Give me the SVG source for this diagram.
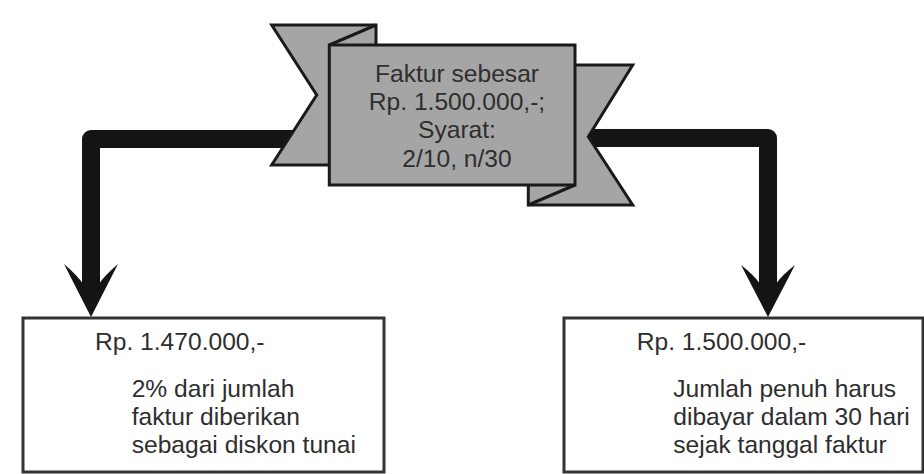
<svg xmlns="http://www.w3.org/2000/svg" width="924" height="474" viewBox="0 0 924 474">
  <style>
    .txt { font-family: "Liberation Sans", Arial, sans-serif; font-size: 24.6px; fill: #2e2e2e; }
    .conn { fill: none; stroke: #141414; stroke-width: 18; stroke-linejoin: round; }
    .head { fill: #141414; }
    .rib { fill: #a5a5a5; stroke: #1a1a1a; stroke-width: 3; stroke-linejoin: miter; }
    .fold { fill: none; stroke: #1a1a1a; stroke-width: 3; }
    .box { fill: #ffffff; stroke: #333333; stroke-width: 3; }
  </style>
  <rect width="924" height="474" fill="#ffffff"/>

  <g id="connectors">
    <path class="conn" d="M310,139 L91,139 L91,284"/>
    <path class="head" d="M64,264 L91,317 L118,264 Q104,276 99,284 L83,284 Q78,276 64,264 Z"/>
    <path class="conn" d="M580,138 L768,138 L768,284"/>
    <path class="head" d="M741,265 L768,317 L795,265 Q781,276 776,284 L760,284 Q755,276 741,265 Z"/>
  </g>

  <g id="invoice">
    <polygon class="rib" points="271.7,25 376,25 376,165 271.7,165 316.7,95"/>
    <polyline class="fold" points="376,25 329.3,45"/>
    <polygon class="rib" points="528.3,65 632.7,65 588.3,136.7 632.7,205 528.3,205"/>
    <polyline class="fold" points="528.3,205 575,185"/>
    <rect class="rib" x="329.3" y="45" width="245.7" height="140"/>
    <text class="txt" text-anchor="middle" x="457" y="82">Faktur sebesar</text>
    <text class="txt" text-anchor="middle" x="457" y="110">Rp. 1.500.000,-;</text>
    <text class="txt" text-anchor="middle" x="457" y="138">Syarat:</text>
    <text class="txt" text-anchor="middle" x="457" y="167">2/10, n/30</text>
  </g>

  <g id="discount">
    <rect class="box" x="23" y="318" width="361" height="154"/>
    <text class="txt" x="95" y="350">Rp. 1.470.000,-</text>
    <text class="txt" x="131.7" y="397">2% dari jumlah</text>
    <text class="txt" x="131.7" y="425">faktur diberikan</text>
    <text class="txt" x="131.7" y="453">sebagai diskon tunai</text>
  </g>

  <g id="fullpay">
    <rect class="box" x="564" y="318" width="359" height="154"/>
    <text class="txt" x="636.7" y="350">Rp. 1.500.000,-</text>
    <text class="txt" x="673.3" y="397">Jumlah penuh harus</text>
    <text class="txt" x="673.3" y="425">dibayar dalam 30 hari</text>
    <text class="txt" x="673.3" y="453">sejak tanggal faktur</text>
  </g>
</svg>
